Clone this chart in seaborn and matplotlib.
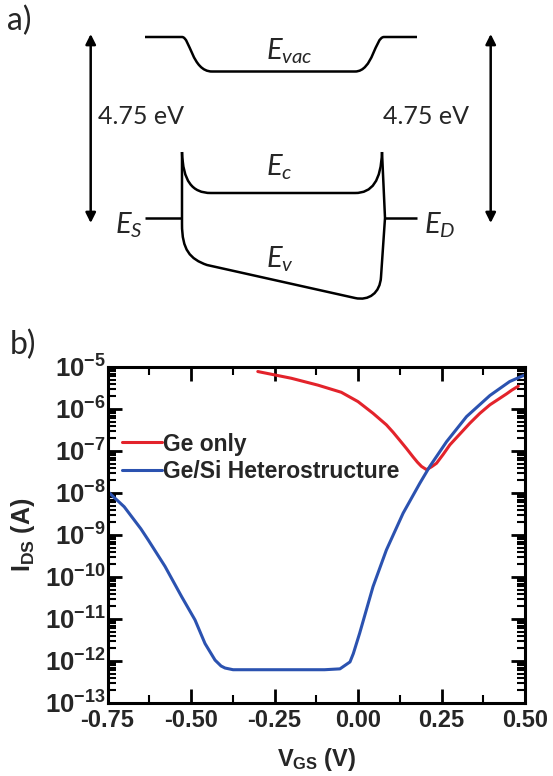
import numpy as np
import pandas as pd
import seaborn as sns
import matplotlib
matplotlib.use("Agg")
import matplotlib.pyplot as plt
from matplotlib.path import Path
from matplotlib.patches import PathPatch
from matplotlib.lines import Line2D
from matplotlib.ticker import MultipleLocator, LogLocator, NullFormatter, FixedLocator, FixedFormatter

# ---------------- data (panel b) ----------------
ge_only_v = [-0.30, -0.20, -0.12, -0.05, 0.00, 0.045, 0.085, 0.105, 0.125, 0.145, 0.165,
             0.178, 0.19, 0.205, 0.22, 0.235, 0.255, 0.275, 0.30, 0.335, 0.365, 0.395,
             0.42, 0.445, 0.46, 0.48]
ge_only_i = [7.8e-6, 5.4e-6, 3.7e-6, 2.5e-6, 1.5e-6, 7.9e-7, 4.2e-7, 2.8e-7, 1.8e-7, 1.15e-7, 7.2e-8,
             5.4e-8, 4.3e-8, 3.6e-8, 4.2e-8, 5.1e-8, 8.3e-8, 1.4e-7, 2.3e-7, 4.6e-7, 7.9e-7, 1.26e-6,
             1.7e-6, 2.3e-6, 2.8e-6, 3.5e-6]

hetero_v = [-0.75, -0.70, -0.65, -0.628, -0.578, -0.528, -0.488, -0.458, -0.428, -0.41,
            -0.398, -0.374, -0.30, -0.20, -0.10, -0.054, -0.024, -0.014, 0.005, 0.045,
            0.085, 0.135, 0.185, 0.215, 0.265, 0.325, 0.395, 0.454, 0.50]
hetero_i = [1.1e-8, 4.7e-9, 1.4e-9, 7.6e-10, 1.8e-10, 3.4e-11, 9.5e-12, 2.6e-12, 1.05e-12, 7.6e-13,
            6.8e-13, 6.2e-13, 6.2e-13, 6.2e-13, 6.2e-13, 6.5e-13, 9.5e-13, 1.5e-12, 4.6e-12, 5.9e-11,
            4.4e-10, 3.3e-9, 1.7e-8, 4.3e-8, 1.66e-7, 6.6e-7, 2.1e-6, 4.5e-6, 6.5e-6]

series_names = ["Ge only", "Ge/Si Heterostructure"]
series_colors = ["#e3232b", "#2b52b0"]

x_ticks = [-0.75, -0.50, -0.25, 0.00, 0.25, 0.50]
x_tick_labels = ["-0.75", "-0.50", "-0.25", "0.00", "0.25", "0.50"]
y_exponents = [-13, -12, -11, -10, -9, -8, -7, -6, -5]

# ---------------- style ----------------
sns.set_theme(style="ticks")
plt.rcParams["font.family"] = ["Liberation Sans", "DejaVu Sans"]
plt.rcParams["mathtext.fontset"] = "custom"
plt.rcParams["mathtext.it"] = "Lato:italic"
plt.rcParams["mathtext.rm"] = "Lato"
plt.rcParams["mathtext.bf"] = "Liberation Sans:bold"

W, H = 553, 776
fig = plt.figure(figsize=(W / 100, H / 100), dpi=100)

# ---------------- panel a: band diagram (schematic, pixel frame) ----------------
ax_a = fig.add_axes([0, 1 - 320 / H, 1, 320 / H])
ax_a.set_xlim(0, W)
ax_a.set_ylim(320, 0)
ax_a.axis("off")

M, L, C = Path.MOVETO, Path.LINETO, Path.CURVE4
evac_pts = [(145, 37), (182, 37), (190, 37), (192, 71.5), (212, 71.5), (355, 71.5),
            (373, 71.5), (375, 37), (384, 37), (417, 37)]
evac_codes = [M, L, C, C, C, L, C, C, C, L]
ec_pts = [(182, 152), (183, 181), (192, 193), (211, 193), (355, 193),
          (372, 193), (381, 181), (382, 152)]
ec_codes = [M, C, C, C, L, C, C, C]
body_pts = [(182, 152), (182, 224), (182, 250), (190, 259), (207, 265), (355, 298),
            (369, 301), (380, 293), (381, 277), (385, 218), (382, 152)]
body_codes = [M, L, C, C, C, L, C, C, C, L, L]
es_pts = [(145, 218), (182, 218)]
ed_pts = [(385, 218), (417, 218)]

for pts, codes in [(evac_pts, evac_codes), (ec_pts, ec_codes), (body_pts, body_codes),
                   (es_pts, [M, L]), (ed_pts, [M, L])]:
    ax_a.add_patch(PathPatch(Path(pts, codes), facecolor="none", edgecolor="black",
                             lw=1.8, capstyle="butt", joinstyle="round"))

for xa in (90.7, 490.7):
    ax_a.annotate("", xy=(xa, 34), xytext=(xa, 223),
                  arrowprops=dict(arrowstyle="<|-|>", color="black", lw=1.8,
                                  mutation_scale=15, shrinkA=0, shrinkB=0))

ax_a.text(98, 117, "4.75 eV", fontsize=18, family="Lato", ha="left", va="center")
ax_a.text(383, 117, "4.75 eV", fontsize=18, family="Lato", ha="left", va="center")
for x, y, s in [(266, 60, r"$E_{vac}$"), (266, 176, r"$E_{c}$"), (266, 268, r"$E_{v}$"),
                (115, 234, r"$E_{S}$"), (424, 234, r"$E_{D}$")]:
    ax_a.text(x, y, s, fontsize=21, ha="left", va="baseline")

fig.text(7 / W, 1 - 30 / H, "a)", fontsize=23, family="Lato", ha="left", va="baseline")
fig.text(10 / W, 1 - 354 / H, "b)", fontsize=23, family="Lato", ha="left", va="baseline")

# ---------------- panel b: transfer curves ----------------
ax_b = fig.add_axes([107.5 / W, 1 - 703 / H, (525 - 107.5) / W, (703 - 367) / H])
df = pd.concat([
    pd.DataFrame({"V": ge_only_v, "I": ge_only_i, "series": series_names[0]}),
    pd.DataFrame({"V": hetero_v, "I": hetero_i, "series": series_names[1]}),
])
sns.lineplot(data=df, x="V", y="I", hue="series", hue_order=series_names,
             palette=series_colors, estimator=None, lw=2.2, legend=False, ax=ax_b)
ax_b.set_yscale("log")
ax_b.set_xlim(-0.75, 0.5)
ax_b.set_ylim(1e-13, 1e-5)

ax_b.xaxis.set_major_locator(FixedLocator(x_ticks))
ax_b.xaxis.set_major_formatter(FixedFormatter(x_tick_labels))
ax_b.xaxis.set_minor_locator(MultipleLocator(0.125))
ax_b.yaxis.set_major_locator(FixedLocator([10.0 ** e for e in y_exponents]))
ax_b.yaxis.set_major_formatter(FixedFormatter([r"$\mathbf{10^{%d}}$" % e for e in y_exponents]))
ax_b.yaxis.set_minor_locator(LogLocator(base=10, subs=np.arange(2, 10), numticks=20))
ax_b.yaxis.set_minor_formatter(NullFormatter())

ax_b.tick_params(which="major", direction="in", top=True, right=True, bottom=True, left=True,
                 length=10, width=2.0, color="black")
ax_b.tick_params(which="minor", direction="in", top=True, right=True, bottom=True, left=True,
                 length=6, width=1.5, color="black")
ax_b.tick_params(axis="x", which="major", pad=4, labelsize=17)
ax_b.tick_params(axis="y", which="major", pad=1, labelsize=18.5)
for lab in ax_b.get_xticklabels():
    lab.set_fontweight("bold")
for sp in ax_b.spines.values():
    sp.set_linewidth(2.2)
    sp.set_color("black")

ax_b.set_xlabel(r"$\mathbf{V_{GS}\ (V)}$", fontsize=17)
ax_b.xaxis.set_label_coords(0.5, -0.128)
ax_b.set_ylabel(r"$\mathbf{I_{DS}\ (A)}$", fontsize=18)
ax_b.yaxis.set_label_coords(-0.168, 0.5)

handles = [Line2D([], [], color=c, lw=2.2) for c in series_colors]
ax_b.legend(handles, series_names, loc="upper left", bbox_to_anchor=(0.035, 0.805),
            frameon=False, borderpad=0, borderaxespad=0, handlelength=1.75,
            handletextpad=0.05, labelspacing=0.2,
            prop={"family": "Liberation Sans", "weight": "bold", "size": 16.5})

fig.savefig("out.png", dpi=100)
